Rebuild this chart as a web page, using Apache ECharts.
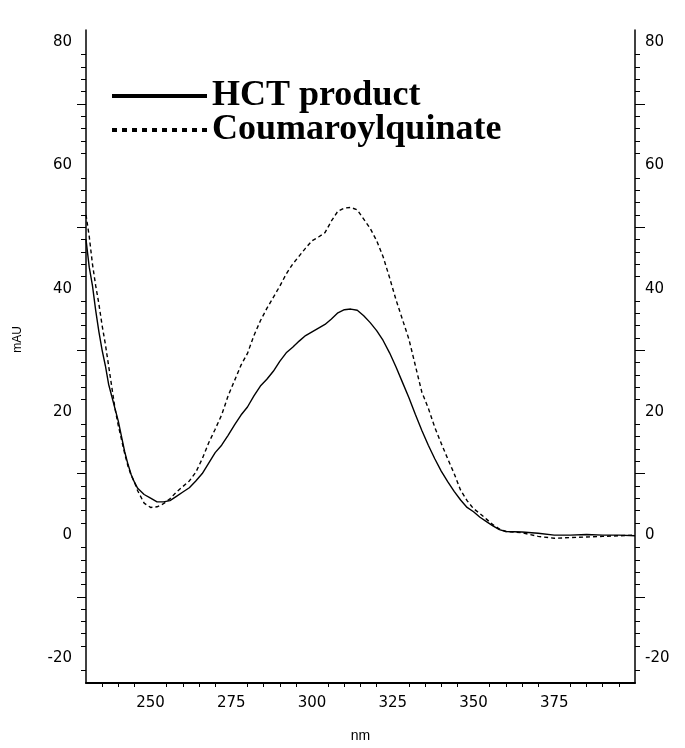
<!DOCTYPE html>
<html><head><meta charset="utf-8">
<script src="https://cdn.jsdelivr.net/npm/echarts@6/dist/echarts.min.js"></script>
<style>html,body{margin:0;padding:0;background:#fff}#c{width:685px;height:748px}</style>
</head><body><div id="c"></div>
<script>
const wavelengths = [230,231,232,233,234,235,236,237,238,239,240,241,242,243,244,245,246,248,250,252,254,256,258,260,262,264,266,268,270,272,274,276,278,280,282,284,286,288,290,292,294,296,298,300,302,304,306,308,310,312,314,316,318,320,322,324,326,328,330,332,334,336,338,340,342,344,346,348,350,352,354,356,358,360,365,370,375,380,385,390,395,400];
const hctProduct = [48,43.5,40.5,36.5,33,30,27.5,24.5,22.5,20.5,18.5,16,13.5,11.5,9.8,8.6,7.6,6.6,6.0,5.4,5.4,5.6,6.3,7.0,7.7,8.8,10.0,11.7,13.4,14.6,16.2,17.9,19.5,20.8,22.6,24.2,25.3,26.6,28.2,29.6,30.5,31.5,32.4,33.0,33.6,34.2,35.1,36.1,36.6,36.7,36.5,35.6,34.5,33.2,31.6,29.6,27.3,24.8,22.3,19.6,17.0,14.6,12.4,10.4,8.7,7.1,5.7,4.5,3.8,2.9,2.2,1.5,0.9,0.6,0.5,0.3,0.0,0.0,0.1,0.0,0.0,-0.1];
const coumaroylquinate = [52,48.5,44,40.5,37.5,34,31,27.5,24,20.5,17.8,15.5,13.2,11.2,9.7,8.6,7.2,5.2,4.5,4.6,5.1,5.9,7.0,7.9,8.8,10.2,12.4,15.0,17.2,19.5,22.6,25.1,27.6,29.5,32.4,34.8,36.8,38.6,40.4,42.4,44.0,45.3,46.6,47.8,48.4,49.1,51.0,52.6,53.1,53.2,52.8,51.3,49.8,47.8,45.2,41.8,38.2,35.0,31.8,27.5,23.2,20.6,17.5,14.9,12.4,10.0,7.3,5.6,4.3,3.5,2.6,1.7,1.0,0.6,0.4,-0.2,-0.5,-0.4,-0.3,-0.2,-0.1,0.0];
const seriesNames = ['HCT product', 'Coumaroylquinate'];
const xTickLabels = [250, 275, 300, 325, 350, 375];
const yTickLabels = [-20, 0, 20, 40, 60, 80];
const xName = 'nm';
const yName = 'mAU';

const xMin = 230, xMax = 400, yMin = -24, yMax = 82;
const xMinorTicks = [];
for (let v = 235; v < xMax; v += 5) if (!xTickLabels.includes(v)) xMinorTicks.push(v);
const yMinorTicks = [], yMajorTicks = [];
for (let v = -22; v <= 80; v += 2) {
  if (v % 20 === 0) continue;
  if (v % 10 === 0) yMajorTicks.push(v); else yMinorTicks.push(v);
}

const labelFont = {fontFamily: 'DejaVu Sans', fontSize: 15, color: '#000'};
function yAx(pos, ticks, len, showLabel, showLine) {
  return {
    type: 'value', position: pos, min: yMin, max: yMax,
    splitLine: {show: false},
    axisLine: {show: showLine, onZero: false, lineStyle: {color: '#000', width: 1.5}},
    axisTick: {show: true, length: len, customValues: ticks, lineStyle: {color: '#000', width: 1}},
    axisLabel: Object.assign({show: showLabel, customValues: yTickLabels, margin: pos === 'left' ? 14 : 10}, labelFont)
  };
}

const chart = echarts.init(document.getElementById('c'), null, {renderer: 'canvas'});
const dots = [];
for (let i = 0; i < 10; i++) dots.push('M' + (i * 10) + ',0h5v4h-5z');
chart.setOption({
  animation: false,
  backgroundColor: '#fff',
  grid: {left: 86, right: 50, top: 30, bottom: 64, containLabel: false},
  legend: {
    orient: 'vertical', left: 107, top: 73, itemWidth: 95, itemHeight: 4, itemGap: -2,
    selectedMode: false,
    itemStyle: {borderWidth: 0},
    textStyle: {fontFamily: 'Liberation Serif', fontWeight: 'bold', fontSize: 36, color: '#000', lineHeight: 34},
    data: [
      {name: seriesNames[0], icon: 'path://M0,0h95v4h-95z'},
      {name: seriesNames[1], icon: 'path://' + dots.join(' ')}
    ]
  },
  xAxis: {
    type: 'value', min: xMin, max: xMax,
    name: xName, nameLocation: 'middle', nameGap: 46,
    nameTextStyle: {fontFamily: 'Liberation Sans', fontSize: 14, color: '#000'},
    splitLine: {show: false},
    axisLine: {onZero: false, lineStyle: {color: '#000', width: 2}},
    axisTick: {length: 4, customValues: xMinorTicks, lineStyle: {color: '#000', width: 1}},
    axisLabel: Object.assign({customValues: xTickLabels, margin: 13}, labelFont)
  },
  yAxis: [
    yAx('left', yMinorTicks, 5, true, true),
    yAx('left', yMajorTicks, 9, false, false),
    yAx('right', yMinorTicks, 5, true, true),
    yAx('right', yMajorTicks, 10, false, false)
  ],
  graphic: [{
    type: 'text', left: 12, top: 326, rotation: Math.PI / 2,
    style: {text: yName, font: '12px "Liberation Sans"', fill: '#000'}
  }],
  series: [
    {
      name: seriesNames[0], type: 'line', symbol: 'none', color: '#000',
      xAxisIndex: 0, yAxisIndex: 0,
      lineStyle: {color: '#000', width: 1.4},
      data: wavelengths.map((w, i) => [w, hctProduct[i]])
    },
    {
      name: seriesNames[1], type: 'line', symbol: 'none', color: '#000',
      xAxisIndex: 0, yAxisIndex: 0,
      lineStyle: {color: '#000', width: 1.4, type: [4, 3]},
      data: wavelengths.map((w, i) => [w, coumaroylquinate[i]])
    }
  ]
});
</script></body></html>
